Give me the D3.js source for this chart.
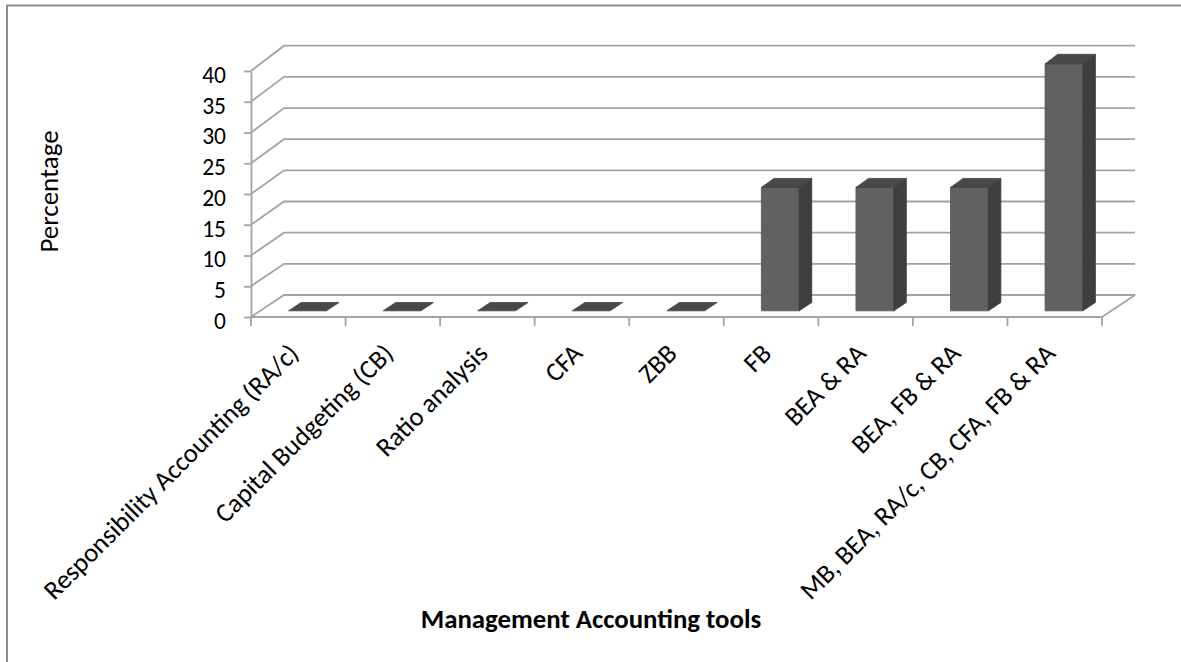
<!DOCTYPE html>
<html>
<head>
<meta charset="utf-8">
<script src="https://cdn.jsdelivr.net/npm/d3@7"></script>
<style>
  html, body { margin: 0; padding: 0; background: #ffffff; }
  svg { display: block; }
  text { font-family: Carlito, Calibri, Lato, sans-serif; fill: #000; }
</style>
</head>
<body>
<svg id="chart" width="1181" height="662"></svg>
<script>
// Share of respondents using each management accounting tool (%)
const categories = [
  "Responsibility Accounting (RA/c)",
  "Capital Budgeting (CB)",
  "Ratio analysis",
  "CFA",
  "ZBB",
  "FB",
  "BEA & RA",
  "BEA, FB & RA",
  "MB, BEA, RA/c, CB, CFA, FB & RA"
];
const values = [0, 0, 0, 0, 0, 20, 20, 20, 40];
const yTicks = [0, 5, 10, 15, 20, 25, 30, 35, 40];
const xTitle = "Management Accounting tools";
const yTitle = "Percentage";

const svg = d3.select("#chart");

// Front plane (category axis) and back wall share the value domain
const x = d3.scaleBand().domain(categories).range([251, 1102]).paddingInner(0).paddingOuter(0);
const yFront = d3.scaleLinear().domain([0, 40]).range([317, 71]);
const yBack = d3.scaleLinear().domain([0, 40]).range([295, 45.7]);
const depthDx = 33;

// Oblique projection: horizontal position on the front plane, value, depth 0..1
function P(xf, v, d) {
  const yf = yFront(v), yb = yBack(v);
  return [xf + d * depthDx, yf + d * (yb - yf)];
}
const poly = pts => "M" + pts.map(p => p.join(",")).join("L") + "Z";

// Outer frame (top and left edges visible)
svg.append("path")
  .attr("d", "M7,662 L7,5.5 L1181,5.5")
  .attr("fill", "none").attr("stroke", "#8c8c8c").attr("stroke-width", 2);

const xL = x.range()[0], xR = x.range()[1];
const grid = svg.append("g").attr("fill", "none").attr("stroke", "#a3a3a3").attr("stroke-width", 1.8);

// Side-wall diagonals and back-wall gridlines
yTicks.forEach(t => {
  const a = P(xL, t, 0), b = P(xL, t, 1), c = P(xR, t, 1);
  grid.append("path").attr("d", `M${a}L${b}L${c}`);
});
// Floor right edge
grid.append("path").attr("d", `M${P(xR, 0, 0)}L${P(xR, 0, 1)}`);

// Value axis on the front-left edge
const yAxis = d3.axisLeft(yFront).tickValues(yTicks).tickSize(7).tickSizeOuter(0).tickPadding(18);
const yg = svg.append("g").attr("transform", `translate(${xL},0)`).call(yAxis);
yg.select(".domain").attr("stroke", "#a3a3a3").attr("stroke-width", 1.8);
yg.selectAll(".tick line").attr("stroke", "#a3a3a3").attr("stroke-width", 1.8);
yg.selectAll(".tick text")
  .attr("font-size", 23.5)
  .attr("fill", "#000").attr("dy", "0.48em");

// Category axis along the front of the floor
const bottom = yFront(0);
svg.append("line")
  .attr("x1", xL).attr("x2", xR).attr("y1", bottom).attr("y2", bottom)
  .attr("stroke", "#a3a3a3").attr("stroke-width", 1.8);
const bounds = categories.map(c => x(c)).concat([xR]);
svg.append("g").selectAll("line").data(bounds).join("line")
  .attr("x1", d => d).attr("x2", d => d)
  .attr("y1", bottom).attr("y2", bottom + 9)
  .attr("stroke", "#a3a3a3").attr("stroke-width", 1.8);

const xAxis = d3.axisBottom(x).tickSize(0).tickSizeOuter(0);
const xg = svg.append("g").attr("transform", `translate(0,${bottom})`).call(xAxis);
xg.select(".domain").remove();
xg.selectAll(".tick text")
  .attr("font-size", 26.5)
  .attr("fill", "#000")
  .attr("text-anchor", "end")
  .attr("y", 0).attr("dy", 0)
  .attr("transform", "translate(2,38) rotate(-45)");

// 3D columns
const d0 = 0.28, d1 = 0.66;
const bars = svg.append("g");
categories.forEach((c, i) => {
  const v = values[i];
  const bw = x.bandwidth() * 0.4;
  const x0 = x(c) + (x.bandwidth() - bw) / 2, x1 = x0 + bw;
  const g = bars.append("g");
  if (v > 0) {
    g.append("path")
      .attr("d", poly([P(x0, 0, d0), P(x1, 0, d0), P(x1, v, d0), P(x0, v, d0)]))
      .attr("fill", "#616161").attr("stroke", "#555").attr("stroke-width", 0.8);
    g.append("path")
      .attr("d", poly([P(x1, 0, d0), P(x1, 0, d1), P(x1, v, d1), P(x1, v, d0)]))
      .attr("fill", "#3e3e3e").attr("stroke", "#3a3a3a").attr("stroke-width", 0.8);
  }
  g.append("path")
    .attr("d", poly([P(x0, v, d0), P(x1, v, d0), P(x1, v, d1), P(x0, v, d1)]))
    .attr("fill", "#484848").attr("stroke", "#444").attr("stroke-width", 0.8);
});

// Axis titles
svg.append("text")
  .attr("x", 591).attr("y", 628)
  .attr("text-anchor", "middle")
  .attr("font-size", 26.8).attr("font-weight", "bold")
  .text(xTitle);

svg.append("text")
  .attr("transform", "translate(58,191.5) rotate(-90)")
  .attr("text-anchor", "middle")
  .attr("font-size", 27)
  .text(yTitle);
</script>
</body>
</html>
